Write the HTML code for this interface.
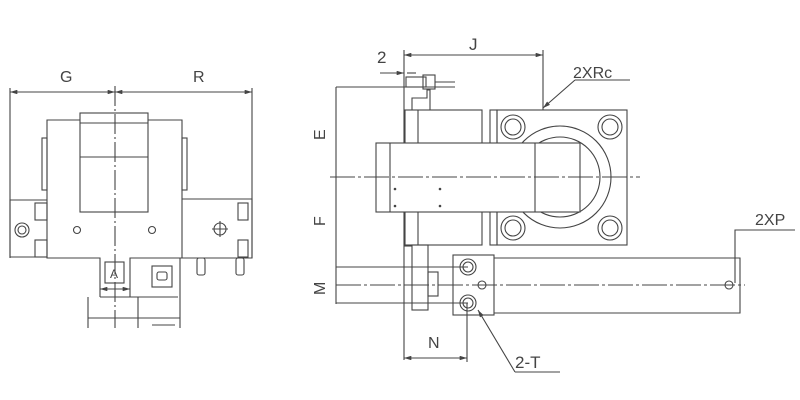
<!DOCTYPE html>
<html><head><style>body{margin:0;background:#fff}svg{display:block}text{font-family:"Liberation Sans",sans-serif;fill:#444}</style></head>
<body>
<svg width="800" height="400" viewBox="0 0 800 400" xmlns="http://www.w3.org/2000/svg" fill="none" stroke="#444" stroke-width="1.1">
<defs><marker id="a" viewBox="0 0 10 6" refX="10" refY="3" markerWidth="8" markerHeight="4" orient="auto-start-reverse"><path d="M0 0L10 3L0 6z" fill="#444" stroke="none"/></marker></defs>
<!-- LEFT VIEW -->
<text x="60" y="82" font-size="16" stroke="none">G</text>
<text x="193" y="82" font-size="16" stroke="none">R</text>
<line x1="10" y1="92" x2="115" y2="92" marker-start="url(#a)" marker-end="url(#a)"/>
<line x1="115" y1="92" x2="252" y2="92" marker-start="url(#a)" marker-end="url(#a)"/>
<line x1="10" y1="88" x2="10" y2="258"/>
<line x1="252" y1="88" x2="252" y2="258"/>
<line x1="115" y1="86" x2="115" y2="328" stroke-dasharray="20,3,2,3"/>
<rect x="80" y="113" width="68" height="99"/>
<line x1="80" y1="123" x2="148" y2="123"/>
<line x1="80" y1="157" x2="148" y2="157"/>
<path d="M80 120H47V258H100V297M148 120H182V258H130V297"/>
<rect x="42" y="138" width="5" height="52"/>
<rect x="182" y="138" width="5" height="52"/>
<path d="M47 200H10V257H47"/>
<rect x="35" y="203" width="12" height="17"/><rect x="35" y="240" width="12" height="17"/>
<circle cx="22" cy="230" r="7"/><circle cx="22" cy="230" r="4"/>
<path d="M182 199H252V258H182"/>
<rect x="238" y="203" width="10" height="17"/><rect x="238" y="240" width="10" height="17"/>
<circle cx="220" cy="229" r="6"/><path d="M212 229H228M220 221V237"/>
<circle cx="77" cy="230" r="3.5"/><circle cx="152" cy="230" r="3.5"/>
<rect x="197" y="258" width="8" height="17" rx="2"/><rect x="236" y="258" width="8" height="17" rx="2"/>
<rect x="105" y="262" width="19" height="21"/>
<text x="110" y="278" font-size="12" stroke="none">A</text>
<rect x="152" y="266" width="20" height="21"/><rect x="157" y="272" width="10" height="8" rx="2"/>
<line x1="100" y1="289" x2="130" y2="289" marker-start="url(#a)" marker-end="url(#a)"/>
<path d="M88 297V328M100 297H178M88 318H180M138 297V328"/>
<line x1="180" y1="258" x2="180" y2="328"/>
<line x1="152" y1="325" x2="175" y2="325"/>
<!-- RIGHT VIEW -->
<text x="469" y="50" font-size="17" stroke="none">J</text>
<text x="377" y="63" font-size="17" stroke="none">2</text>
<line x1="404" y1="55" x2="543" y2="55" marker-start="url(#a)" marker-end="url(#a)"/>
<line x1="404" y1="50" x2="404" y2="360"/>
<line x1="543" y1="50" x2="543" y2="110"/>
<line x1="380" y1="73" x2="404" y2="73" marker-end="url(#a)"/>
<line x1="407" y1="73" x2="416" y2="73"/>
<rect x="406" y="77" width="20" height="10"/>
<rect x="423" y="75" width="12" height="14"/>
<line x1="435" y1="82" x2="455" y2="82"/>
<path d="M412 110V98H427V90H430V110"/>
<line x1="336" y1="87" x2="455" y2="87"/>
<line x1="336" y1="87" x2="336" y2="304"/>
<text x="325" y="140" font-size="16" stroke="none" transform="rotate(-90 325 140)">E</text>
<text x="325" y="226" font-size="16" stroke="none" transform="rotate(-90 325 226)">F</text>
<text x="325" y="295" font-size="16" stroke="none" transform="rotate(-90 325 295)">M</text>
<rect x="405" y="110" width="77" height="135"/>
<line x1="418" y1="110" x2="418" y2="245"/>
<rect x="497" y="110" width="130" height="135"/>
<rect x="490" y="110" width="7" height="135"/>
<circle cx="560" cy="177" r="51"/><circle cx="560" cy="177" r="40"/>
<rect x="376" y="143" width="204" height="69" fill="#fff"/>
<line x1="390" y1="143" x2="390" y2="212"/>
<line x1="535" y1="143" x2="535" y2="212"/>
<g>
<circle cx="513" cy="127" r="12"/><circle cx="513" cy="127" r="8"/>
<circle cx="610" cy="127" r="12"/><circle cx="610" cy="127" r="8"/>
<circle cx="513" cy="228" r="12"/><circle cx="513" cy="228" r="8"/>
<circle cx="610" cy="228" r="12"/><circle cx="610" cy="228" r="8"/>
</g>
<line x1="330" y1="177" x2="640" y2="177" stroke-dasharray="25,3,3,3"/>
<g fill="#444" stroke="none"><circle cx="395" cy="189" r="1.3"/><circle cx="440" cy="189" r="1.3"/><circle cx="395" cy="206" r="1.3"/><circle cx="440" cy="206" r="1.3"/></g>
<rect x="412" y="245" width="16" height="65"/>
<line x1="404" y1="246" x2="412" y2="246"/>
<rect x="428" y="272" width="10" height="24"/>
<rect x="453" y="255" width="41" height="60"/>
<path d="M494 258H740V313H494"/>
<line x1="336" y1="285" x2="745" y2="285" stroke-dasharray="25,3,3,3"/>
<circle cx="468" cy="267" r="8"/><circle cx="468" cy="267" r="5"/>
<circle cx="468" cy="303" r="8"/><circle cx="468" cy="303" r="5"/>
<circle cx="482" cy="285" r="4"/>
<circle cx="729" cy="285" r="4"/>
<line x1="336" y1="267" x2="468" y2="267"/>
<line x1="336" y1="303" x2="468" y2="303"/>
<line x1="467" y1="303" x2="467" y2="362"/>
<line x1="404" y1="358" x2="467" y2="358" marker-start="url(#a)" marker-end="url(#a)"/>
<text x="428" y="348" font-size="16" stroke="none">N</text>
<path d="M515 372L478 310" marker-end="url(#a)"/>
<line x1="515" y1="372" x2="560" y2="372"/>
<text x="515" y="368" font-size="17" stroke="none">2-T</text>
<path d="M575 80L543 108" marker-end="url(#a)"/>
<line x1="575" y1="80" x2="630" y2="80"/>
<text x="573" y="78" font-size="16" stroke="none">2XRc</text>
<path d="M735 283V230H795"/>
<text x="755" y="225" font-size="16" stroke="none">2XP</text>
</svg>
</body></html>
